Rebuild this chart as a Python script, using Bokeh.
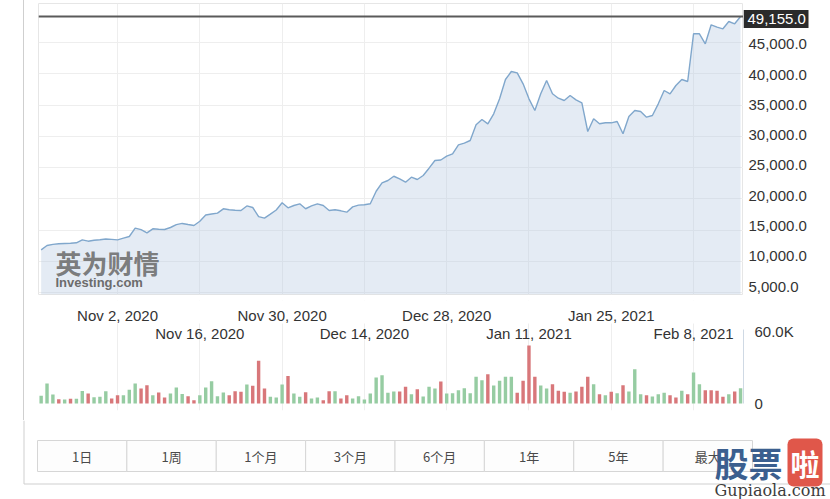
import pandas as pd
from bokeh.plotting import figure
from bokeh.layouts import column, row
from bokeh.models import (Range1d, LinearAxis, FixedTicker, Span, Label, BoxAnnotation)
from bokeh.embed import file_html
from bokeh.resources import INLINE
from bokeh.core.properties import value

# ---------------- data ----------------
start_date = "2020-10-20"

close = [
    11830, 12520, 12700, 12790, 12850, 12880, 12950, 13430, 13210, 13350,
    13430, 13550, 13500, 13420, 13700, 13960, 15300, 15050, 14550, 15190,
    15130, 15080, 15400, 15850, 16050, 15880, 15720, 16400, 17400, 17550,
    17700, 18390, 18250, 18150, 18120, 18850, 18600, 17150, 16890, 17530,
    18200, 19350, 18550, 18920, 19190, 18400, 18850, 19190, 18920, 18120,
    18230, 18070, 17850, 18700, 18980, 19030, 19190, 21200, 22550, 22920,
    23600, 23190, 22650, 23450, 23080, 23720, 24890, 26120, 26200, 26810,
    27190, 28630, 28890, 29320, 31830, 32680, 31990, 33590, 35990, 39080,
    40360, 40150, 38390, 35990, 34120, 36790, 38920, 36790, 36090, 35720,
    36520, 35830, 35350, 30760, 32790, 31990, 32150, 32150, 32360, 30390,
    33160, 34120, 33960, 33050, 33320, 35190, 37320, 36790, 38120, 39080,
    38760, 46390, 46390, 44790, 47830, 47450, 47190, 48360, 47990, 49155,
]

volume_k = [
    6.4, 16.7, 7.5, 3.6, 3.3, 3.9, 3.9, 10.5, 8.3, 5.3,
    5.6, 10.3, 4.2, 6.9, 6.9, 11.4, 16.7, 12.5, 15.3, 6.9,
    9.2, 5.0, 8.3, 13.3, 8.0, 6.1, 2.8, 6.9, 13.3, 18.6,
    6.1, 9.2, 6.9, 10.3, 9.7, 15.8, 14.7, 35.6, 12.5, 5.6,
    5.0, 15.8, 23.0, 8.3, 5.6, 9.4, 4.2, 5.0, 2.8, 10.3,
    10.3, 4.2, 6.9, 4.2, 6.1, 3.3, 8.3, 21.7, 23.6, 8.9,
    10.0, 10.0, 13.9, 7.8, 11.9, 5.8, 13.9, 12.5, 18.3, 8.3,
    8.6, 11.1, 12.8, 8.6, 22.2, 19.4, 24.4, 15.0, 18.9, 22.2,
    22.2, 8.9, 18.9, 48.3, 22.2, 15.0, 12.5, 16.1, 10.6, 9.7,
    8.9, 10.0, 13.9, 22.2, 16.1, 7.8, 6.9, 9.7, 8.6, 15.3,
    10.0, 28.6, 7.8, 6.9, 5.8, 7.8, 8.9, 6.9, 5.0, 10.6,
    7.8, 25.8, 16.1, 11.1, 11.1, 10.6, 5.6, 7.8, 10.0, 12.8,
]

# G = up (green bar), R = down (red bar)
direction = ("GGGRGRGGRG" "GGRRGGGRRG" "RRGGGRRGGG" "GGRRRGRRRG"
             "GGRGGRGGRR" "GRRGGGGGGG" "GRRGRGGGRG" "GGGGGGRGGG"
             "GRRRRGGRRR" "GRRRGRGRGR" "GGGRGGGRRG" "RGGRRRRGRG")

price_ticks = [5000, 10000, 15000, 20000, 25000, 30000, 35000, 40000, 45000]
vol_ticks = [0, 60000]
vol_tick_labels = ["0", "60.0K"]

date_row1 = ["2020-11-02", "2020-11-30", "2020-12-28", "2021-01-25"]
date_row1_labels = ["Nov 2, 2020", "Nov 30, 2020", "Dec 28, 2020", "Jan 25, 2021"]
date_row2 = ["2020-11-16", "2020-12-14", "2021-01-11", "2021-02-08"]
date_row2_labels = ["Nov 16, 2020", "Dec 14, 2020", "Jan 11, 2021", "Feb 8, 2021"]

buttons = ["1日", "1周", "1个月", "3个月", "6个月", "1年", "5年", "最大"]

# ---------------- helpers / styles ----------------
DAY = 86400000
FONT = "Liberation Sans"
CJK = "Noto Sans CJK SC"
UP_COLOR = "#96cca2"
DOWN_COLOR = "#d8777a"
GRID = "#eeeeee"
LABEL_COLOR = "#333333"


def ms(d):
    return pd.Timestamp(d).value // 10**6


dates = pd.date_range(start_date, periods=len(close), freq="D")
volume = [v * 1000 for v in volume_k]
bar_colors = [UP_COLOR if d == "G" else DOWN_COLOR for d in direction]
grid_dates = sorted([ms(d) for d in date_row1 + date_row2])

x_range = Range1d(start=ms(dates[0]) - 0.45 * DAY, end=ms(dates[-1]) + 0.5 * DAY)

# ---------------- price panel ----------------
PRICE_TOP, PRICE_BOTTOM, PRICE_H = 3, 6, 300
price_lo, price_hi = 4680, 51240
per_px = (price_hi - price_lo) / (PRICE_H - PRICE_TOP - PRICE_BOTTOM)
p = figure(width=719, height=PRICE_H, x_axis_type="datetime", x_range=x_range,
           y_range=Range1d(price_lo, price_hi), x_axis_location=None, y_axis_location=None,
           toolbar_location=None, output_backend="svg",
           min_border_left=14, min_border_right=0, min_border_top=PRICE_TOP,
           min_border_bottom=PRICE_BOTTOM,
           outline_line_color="#e6e6e6", background_fill_color="white",
           border_fill_color="white")
p.xgrid.ticker = FixedTicker(ticks=grid_dates)
p.ygrid.ticker = FixedTicker(ticks=price_ticks)
p.grid.grid_line_color = GRID

p.varea(x=dates, y1=price_lo, y2=close, fill_color="#b2c6e0", fill_alpha=0.35)
p.line(x=dates, y=close, line_color="#80a7cc", line_width=1.4)
p.add_layout(Span(location=close[-1], dimension="width", line_color="#5a5a5a", line_width=2))

# watermark of the source site
p.add_layout(Label(x=17, y=32, x_units="screen", y_units="screen", text="英为财情",
                   text_font=CJK, text_font_style="bold", text_font_size="26px",
                   text_color="#6e6e6e", text_baseline="middle", text_alpha=0.9))
p.add_layout(Label(x=17, y=12, x_units="screen", y_units="screen", text="Investing.com",
                   text_font=FONT, text_font_style="bold", text_font_size="13px",
                   text_color="#6c6c6c", text_baseline="middle"))

# right-hand price scale (tick labels and last-price badge); same scale as the
# price frame, extended over the whole height so that no label is clipped
s = figure(width=87, height=PRICE_H, x_range=Range1d(0, 87),
           y_range=Range1d(price_lo - PRICE_BOTTOM * per_px, price_hi + PRICE_TOP * per_px),
           x_axis_location=None, y_axis_location=None, toolbar_location=None,
           output_backend="svg", min_border_left=0, min_border_right=0,
           min_border_top=0, min_border_bottom=0, outline_line_color=None,
           background_fill_color="white", border_fill_color="white")
s.grid.visible = False
s.text(x=[5] * len(price_ticks), y=price_ticks,
       text=[f"{t:,.1f}" for t in price_ticks], text_align="left", text_baseline="middle",
       text_font=value(FONT), text_font_size="15px", text_color=LABEL_COLOR)
s.rect(x=[32.5], y=[close[-1]], width=65, height=18, height_units="screen",
       fill_color="#2b2b2b", line_color=None)
s.text(x=[4], y=[close[-1]], text=[f"{close[-1]:,.1f}"], text_align="left",
       text_baseline="middle", text_font=value(FONT), text_font_size="15px",
       text_color="white")

# ---------------- volume panel ----------------
vol_lo, vol_hi = -5833, 85833
v = figure(width=806, height=120, x_axis_type="datetime", x_range=x_range,
           y_range=Range1d(vol_lo, vol_hi), x_axis_location=None, y_axis_location=None,
           toolbar_location=None, output_backend="svg",
           min_border_left=14, min_border_right=87, min_border_top=0, min_border_bottom=10,
           outline_line_color=None, background_fill_color="white", border_fill_color="white")
v.xgrid.ticker = FixedTicker(ticks=grid_dates)
v.ygrid.visible = False
v.grid.grid_line_color = GRID
v.add_layout(BoxAnnotation(bottom=66700, fill_color="white", fill_alpha=1.0,
                           line_color=None, level="underlay"))

v.vbar(x=dates, top=volume, width=0.58 * DAY, fill_color=bar_colors, line_color=None)

vax = LinearAxis(ticker=FixedTicker(ticks=vol_ticks),
                 major_label_overrides=dict(zip(vol_ticks, vol_tick_labels)),
                 major_tick_line_color=None, minor_tick_line_color=None,
                 axis_line_color="#cfd9e4", bounds=(0, 62000), major_label_standoff=5,
                 major_label_text_font=FONT, major_label_text_font_size="15px",
                 major_label_text_color=LABEL_COLOR)
v.add_layout(vax, "right")

for row_dates, row_labels, off in ((date_row1, date_row1_labels, -88),
                                   (date_row2, date_row2_labels, -70)):
    v.text(x=pd.to_datetime(row_dates), y=[0] * len(row_dates), text=row_labels,
           y_offset=off, text_align="center", text_baseline="middle",
           text_font=value(FONT), text_font_size="15px", text_color=LABEL_COLOR)

# ---------------- range buttons ----------------
BTN = 89.375            # button width in px
BTN_H = 31              # button height in px
btn_x = list(range(len(buttons)))
b = figure(width=830, height=79,
           x_range=Range1d(-0.5 - 37 / BTN, len(buttons) - 0.5 + 78 / BTN),
           y_range=Range1d(-28 / BTN_H, 1 + 20 / BTN_H),
           x_axis_location=None, y_axis_location=None, toolbar_location=None,
           output_backend="svg", min_border_left=0, min_border_right=0,
           min_border_top=0, min_border_bottom=0, outline_line_color=None,
           background_fill_color="white", border_fill_color="white")
b.grid.visible = False
b.vbar(x=btn_x, bottom=0, top=1, width=1, fill_color="#fdfdfd", line_color="#d6d6d6")
b.text(x=btn_x, y=[0.5] * len(buttons), text=buttons, text_align="center",
       text_baseline="middle", text_font=value(CJK), text_font_size="13px",
       text_color="#4a4a4a")

# continuation of the outer frame (left edge and bottom edge)
edge_x = -0.5 - (37 - 23.5) / BTN
edge_y = -12.5 / BTN_H
b.segment(x0=[edge_x, edge_x], y0=[1 + 20 / BTN_H, edge_y],
          x1=[edge_x, len(buttons) - 0.5 + 78 / BTN], y1=[edge_y, edge_y],
          line_color="#cfcfcf", line_width=1)

# site watermark at the bottom right
b.add_layout(Label(x=714, y=37, x_units="screen", y_units="screen", text="股票",
                   text_font=CJK, text_font_style="bold", text_font_size="34px",
                   text_color="#3b5f8f", text_baseline="middle"))
b.add_layout(Label(x=787, y=37, x_units="screen", y_units="screen", text="啦",
                   text_font=CJK, text_font_style="bold", text_font_size="29px",
                   text_color="white", text_baseline="middle",
                   background_fill_color="#e0574a", padding=3, border_radius=6))
b.add_layout(Label(x=714, y=9, x_units="screen", y_units="screen", text="Gupiaola.com",
                   text_font="DejaVu Serif", text_font_size="16px", text_color="#3d3d3d",
                   text_baseline="middle"))

inner = column(row(p, s), v, styles={"margin-left": "23px",
                                     "border-left": "1px solid #cfcfcf"})
layout = column(inner, b)

open("out.html", "w").write(file_html(layout, INLINE))
